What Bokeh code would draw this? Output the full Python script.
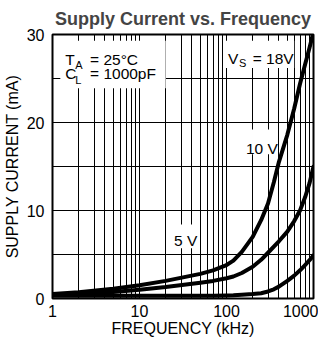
from bokeh.plotting import figure
from bokeh.models import Label, FixedTicker, PrintfTickFormatter
from bokeh.embed import file_html
from bokeh.resources import INLINE

# ---- data ----
freq_khz = [1, 2, 5, 10, 20, 50, 70, 100, 120, 150, 200, 250, 300, 350, 400,
            500, 600, 700, 800, 900, 1000]
icc_18v = [0.5, 0.7, 1.1, 1.5, 2.0, 2.8, 3.2, 3.8, 4.3, 5.3, 7.0, 8.9, 10.8, 13.2,
           15.5, 18.6, 21.6, 24.4, 26.6, 28.5, 30.3]
icc_10v = [0.4, 0.5, 0.75, 1.0, 1.3, 1.8, 2.0, 2.3, 2.5, 2.9, 3.6, 4.4, 5.2, 5.9,
           6.5, 7.6, 8.8, 10.0, 11.5, 13.1, 15.0]
icc_5v = [0.3, 0.3, 0.3, 0.3, 0.3, 0.3, 0.3, 0.33, 0.36, 0.42, 0.5, 0.6, 0.8, 1.05,
          1.35, 2.0, 2.6, 3.2, 3.8, 4.35, 4.9]

x_tick_values = [1, 10, 100, 1000]
y_tick_values = [0, 10, 20, 30]
x_grid_values = [2, 3, 4, 5, 6, 7, 8, 9, 10, 20, 30, 40, 50, 60, 70, 80, 90,
                 100, 200, 300, 400, 500, 600, 700, 800, 900]
y_grid_values = [5, 10, 15, 20, 25]

FONT = "Liberation Sans"

p = figure(width=318, height=342, x_axis_type="log", x_range=(1, 1000), y_range=(0, 30),
           output_backend="svg", toolbar_location=None,
           min_border_left=49, min_border_right=5, min_border_top=33, min_border_bottom=44,
           title="Supply Current vs. Frequency")

p.title.text_font = FONT
p.title.text_font_size = "18px"
p.title.text_font_style = "bold"
p.title.align = "center"
p.title.standoff = 12

p.background_fill_color = "white"
p.border_fill_color = "white"
p.outline_line_color = "black"
p.outline_line_width = 2

# grids
p.xgrid.ticker = FixedTicker(ticks=x_grid_values)
p.ygrid.ticker = FixedTicker(ticks=y_grid_values)
for g in (p.xgrid, p.ygrid):
    g.grid_line_color = "black"
    g.grid_line_width = 1
    g.grid_line_alpha = 1.0

# axes
p.xaxis.ticker = FixedTicker(ticks=x_tick_values)
p.yaxis.ticker = FixedTicker(ticks=y_tick_values)
p.xaxis.formatter = PrintfTickFormatter(format="%d")
p.yaxis.formatter = PrintfTickFormatter(format="%d")
for ax in (p.xaxis, p.yaxis):
    ax.axis_line_color = None
    ax.major_tick_in = 0
    ax.major_tick_out = 0
    ax.minor_tick_in = 0
    ax.minor_tick_out = 0
    ax.major_label_text_font = FONT
    ax.major_label_text_font_size = "16px"
    ax.major_label_text_color = "black"
    ax.axis_label_text_font = FONT
    ax.axis_label_text_font_size = "16px"
    ax.axis_label_text_font_style = "normal"
    ax.axis_label_text_color = "black"
p.xaxis.axis_label = "FREQUENCY (kHz)"
p.yaxis.axis_label = "SUPPLY CURRENT (mA)"
p.xaxis.major_label_standoff = 6
p.xaxis.axis_label_standoff = 0
p.yaxis.major_label_standoff = 8
p.yaxis.axis_label_standoff = 3

# white backgrounds behind the annotation texts (hide grid lines)
p.quad(left=[1.23, 96, 152, 22], right=[20, 600, 390, 47],
       bottom=[23.9, 26.2, 16.4, 5.7], top=[29.3, 29.3, 19.2, 8.4],
       fill_color="white", line_color=None)

# curves
for ys in (icc_18v, icc_10v, icc_5v):
    p.line(freq_khz, ys, line_color="black", line_width=4, line_join="round", line_cap="round")

def lab(x, y, t, size="15.5px"):
    p.add_layout(Label(x=x, y=y, text=t, text_font=FONT, text_font_size=size,
                       text_color="black", text_align="left", text_baseline="alphabetic"))

lab(1.40, 27.2, "T")
lab(1.82, 26.5, "A", "11px")
lab(2.70, 27.2, "= 25°C")
lab(1.40, 25.6, "C")
lab(1.82, 24.8, "L", "11px")
lab(2.70, 25.6, "= 1000pF")
lab(104, 27.3, "V")
lab(139, 26.8, "S", "11px")
lab(200, 27.3, "= 18V")
lab(167, 17.1, "10 V")
lab(24.9, 6.6, "5 V")

open("out.html", "w").write(file_html(p, INLINE))
